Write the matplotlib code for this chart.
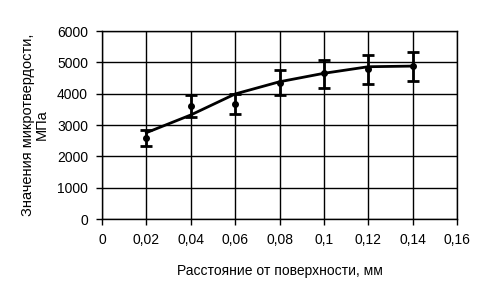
import matplotlib.pyplot as plt

plt.rcParams['font.family'] = ['Liberation Sans', 'DejaVu Sans']

# расстояние от поверхности, мм
depth = [0.02, 0.04, 0.06, 0.08, 0.10, 0.12, 0.14]
# измеренная микротвердость, МПа
hardness = [2600, 3620, 3680, 4350, 4650, 4780, 4870]
err_low = [270, 365, 340, 395, 480, 480, 465]
err_high = [240, 345, 320, 405, 425, 455, 450]
# сглаженная кривая
trend = [2755, 3320, 3990, 4380, 4650, 4860, 4880]

xticks = [0, 0.02, 0.04, 0.06, 0.08, 0.10, 0.12, 0.14, 0.16]
xlabels = ['0', '0,02', '0,04', '0,06', '0,08', '0,1', '0,12', '0,14', '0,16']
yticks = [0, 1000, 2000, 3000, 4000, 5000, 6000]

fig = plt.figure(figsize=(4.89, 3.01), dpi=100)
ax = fig.add_axes([0.2086, 0.2724, 0.726, 0.6246])

ax.plot(depth, trend, color='black', lw=2)
ax.errorbar(depth, hardness, yerr=[err_low, err_high], fmt='o', color='black',
            ms=4, elinewidth=2, capsize=4, capthick=2)

ax.set_xlim(0, 0.16)
ax.set_ylim(0, 6000)
ax.set_xticks(xticks)
ax.set_xticklabels(xlabels)
ax.set_yticks(yticks)
ax.grid(True, color='black', lw=1)
ax.set_axisbelow(True)
for s in ax.spines.values():
    s.set_color('black')
    s.set_linewidth(1)
ax.tick_params(direction='out', length=4, width=1, labelsize=10, pad=6)

ax.set_xlabel('Расстояние от поверхности, мм', fontsize=10, labelpad=12)
ax.set_ylabel('Значения микротвердости,\nМПа', fontsize=10.5, labelpad=6,
              linespacing=1.0)

fig.savefig('out.png', dpi=100)
